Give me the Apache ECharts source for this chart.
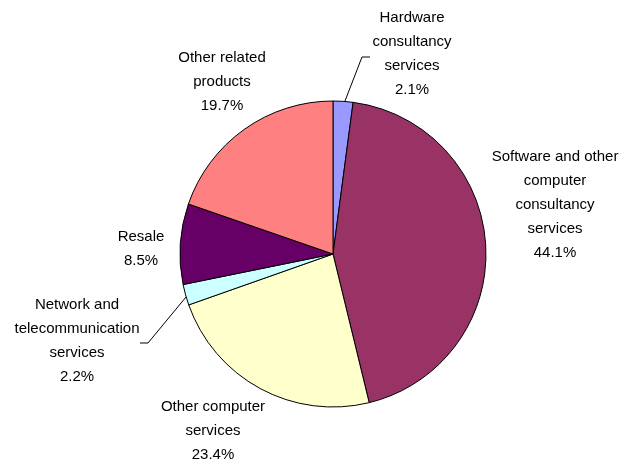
<!DOCTYPE html>
<html>
<head>
<meta charset="utf-8">
<script src="https://cdn.jsdelivr.net/npm/echarts@6/dist/echarts.min.js"></script>
<style>
  html, body { margin: 0; padding: 0; background: #fff; }
  #main { width: 632px; height: 467px; }
</style>
</head>
<body>
<div id="main"></div>
<script>
// slices, clockwise from 12 o'clock
const names = [
  'Hardware\nconsultancy\nservices',
  'Software and other\ncomputer\nconsultancy\nservices',
  'Other computer\nservices',
  'Network and\ntelecommunication\nservices',
  'Resale',
  'Other related\nproducts'
]
const shares = [2.1, 44.1, 23.4, 2.2, 8.5, 19.7]
const colors = ['#9999ff', '#993366', '#ffffcc', '#ccffff', '#660066', '#ff8080']

// label placement (centre of each text block) and leader lines
const labelPos = [[412, 54], [555, 205], [213, 431], [77, 341], [141, 249], [222, 82]]
const leaders = {
  0: [[345, 101], [362, 57], [370, 57]],
  3: [[186, 297], [148, 343], [140, 343]]
}

let myChart = echarts.init(document.getElementById('main'))
myChart.setOption({
  animation: false,
  series: [{
    type: 'pie',
    center: [333, 254],
    radius: 153,
    startAngle: 90,
    clockwise: true,
    avoidLabelOverlap: false,
    itemStyle: { borderColor: '#000', borderWidth: 1 },
    label: {
      show: true,
      position: 'outside',
      color: '#000',
      fontFamily: 'Liberation Sans, Arial, sans-serif',
      fontSize: 15,
      lineHeight: 24,
      align: 'center',
      formatter: p => p.name + '\n' + p.value.toFixed(1) + '%'
    },
    labelLine: { show: false, lineStyle: { color: '#000', width: 1 } },
    emphasis: { disabled: true },
    data: names.map((n, i) => ({
      name: n,
      value: shares[i],
      itemStyle: { color: colors[i] },
      labelLine: { show: !!leaders[i] }
    })),
    labelLayout: function (params) {
      const i = params.dataIndex
      const out = {
        x: labelPos[i][0],
        y: labelPos[i][1],
        align: 'center',
        verticalAlign: 'middle'
      }
      if (leaders[i]) out.labelLinePoints = leaders[i]
      return out
    }
  }]
})
</script>
</body>
</html>
